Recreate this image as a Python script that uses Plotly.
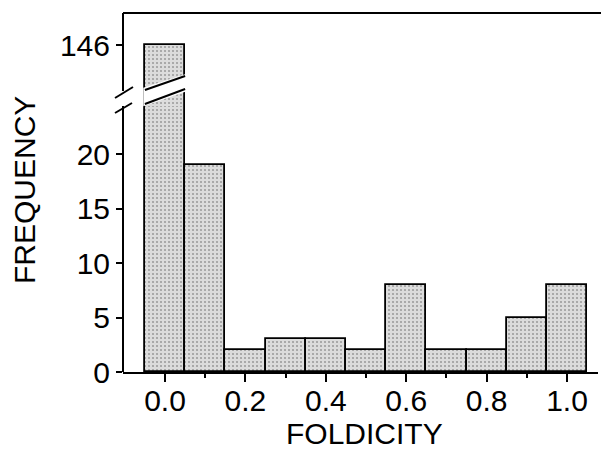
import plotly.graph_objects as go

# Histogram of foldicity values (bin centres, width 0.1)
foldicity = [0.0, 0.1, 0.2, 0.3, 0.4, 0.5, 0.6, 0.7, 0.8, 0.9, 1.0]
frequency = [146, 19, 2, 3, 3, 2, 8, 2, 2, 5, 8]
bin_width = 0.1

x_ticks = [0.0, 0.2, 0.4, 0.6, 0.8, 1.0]
x_ticktext = ["0.0", "0.2", "0.4", "0.6", "0.8", "1.0"]
y_ticks_low = [0, 5, 10, 15, 20]
y_ticks_high = [146]

FONT = "Liberation Sans, Arial, Helvetica, sans-serif"
W, H = 601, 450
ML, MR, MT, MB = 123, 3, 13, 78
PW, PH = W - ML - MR, H - MT - MB


def py(p):
    """pixel row -> paper y"""
    return (H - MB - p) / PH


def px(p):
    """pixel column -> paper x"""
    return (p - ML) / PW


bar_style = dict(
    color="#d0d0d0",
    line=dict(color="black", width=1.8),
    pattern=dict(shape=".", fgcolor="#5e5e5e", bgcolor="#dcdcdc", size=4, solidity=0.22),
)

fig = go.Figure()
for yax in ("y", "y2"):
    fig.add_trace(go.Bar(
        x=foldicity, y=frequency, width=bin_width,
        marker=bar_style, yaxis=yax, showlegend=False,
    ))

# lower and upper parts of the broken y axis share 10.9 px per count
unit = 10.9
low_top_px, high_bot_px = 76, 106
low_range = [0, (H - MB - low_top_px) / unit]
high_range = [146 - (high_bot_px - 45) / unit, 146 + (45 - MT) / unit]

axis_font = dict(family=FONT, size=30, color="black")
fig.update_layout(
    width=W, height=H,
    margin=dict(l=ML, r=MR, t=MT, b=MB),
    paper_bgcolor="white", plot_bgcolor="white",
    bargap=0, barmode="overlay",
    xaxis=dict(
        range=[-0.1045, 1.077], showline=True, linecolor="black", linewidth=2,
        showgrid=False, zeroline=False,
        tickmode="array", tickvals=x_ticks, ticktext=x_ticktext,
        ticks="outside", ticklen=8, tickwidth=2, tickcolor="black",
        ticklabelstandoff=-7,
        minor=dict(tickmode="array", tickvals=[0.1, 0.3, 0.5, 0.7, 0.9],
                   ticks="outside", ticklen=4, tickwidth=1.5, tickcolor="black"),
        tickfont=axis_font,
    ),
    yaxis=dict(
        domain=[0, py(low_top_px)], range=low_range,
        showline=False, showgrid=False, zeroline=False,
        tickmode="array", tickvals=y_ticks_low,
        ticks="outside", ticklen=6, tickwidth=2, tickcolor="black",
        tickfont=axis_font,
    ),
    yaxis2=dict(
        domain=[py(high_bot_px), 1], range=high_range, anchor="x",
        showline=False, showgrid=False, zeroline=False,
        tickmode="array", tickvals=y_ticks_high,
        ticks="outside", ticklen=6, tickwidth=2, tickcolor="black",
        tickfont=axis_font,
    ),
)

# slanted cut through the tallest bar
x0, x1 = foldicity[0] - bin_width / 2, foldicity[0] + bin_width / 2
upper_l, upper_r = py(90), py(76)
lower_l, lower_r = py(104), py(89)
fig.add_shape(type="path", xref="x", yref="paper", layer="above",
              path=f"M {x0 - 0.004} {upper_l + 0.006} L {x1 + 0.004} {upper_r + 0.006} "
                   f"L {x1 + 0.004} {lower_r - 0.006} L {x0 - 0.004} {lower_l - 0.006} Z",
              fillcolor="white", line=dict(width=0))
fig.add_shape(type="path", xref="x", yref="paper", layer="above",
              path=f"M {x0} {upper_l} L {x1} {upper_r}",
              line=dict(color="black", width=2))
fig.add_shape(type="path", xref="x", yref="paper", layer="above",
              path=f"M {x0} {lower_l} L {x1} {lower_r}",
              line=dict(color="black", width=2))

# y axis line with break marks
line_kw = dict(type="line", xref="paper", yref="paper", layer="above",
               line=dict(color="black", width=2))
fig.add_shape(x0=0, x1=0, y0=py(MT), y1=py(91), **line_kw)
fig.add_shape(x0=0, x1=0, y0=py(106), y1=0, **line_kw)
fig.add_shape(x0=px(115), x1=px(133), y0=py(98), y1=py(87), **line_kw)
fig.add_shape(x0=px(115), x1=px(132), y0=py(113), y1=py(103), **line_kw)
# top frame line
fig.add_shape(x0=0, x1=px(W), y0=1, y1=1, **line_kw)

fig.add_annotation(text="FOLDICITY", xref="paper", yref="paper",
                   x=px(364), y=py(433), showarrow=False,
                   xanchor="center", yanchor="middle",
                   font=dict(family=FONT, size=30, color="black"))
fig.add_annotation(text="FREQUENCY", xref="paper", yref="paper",
                   x=px(24), y=py(190), showarrow=False, textangle=-90,
                   xanchor="center", yanchor="middle",
                   font=dict(family=FONT, size=30, color="black"))

fig.write_html("out.html")
